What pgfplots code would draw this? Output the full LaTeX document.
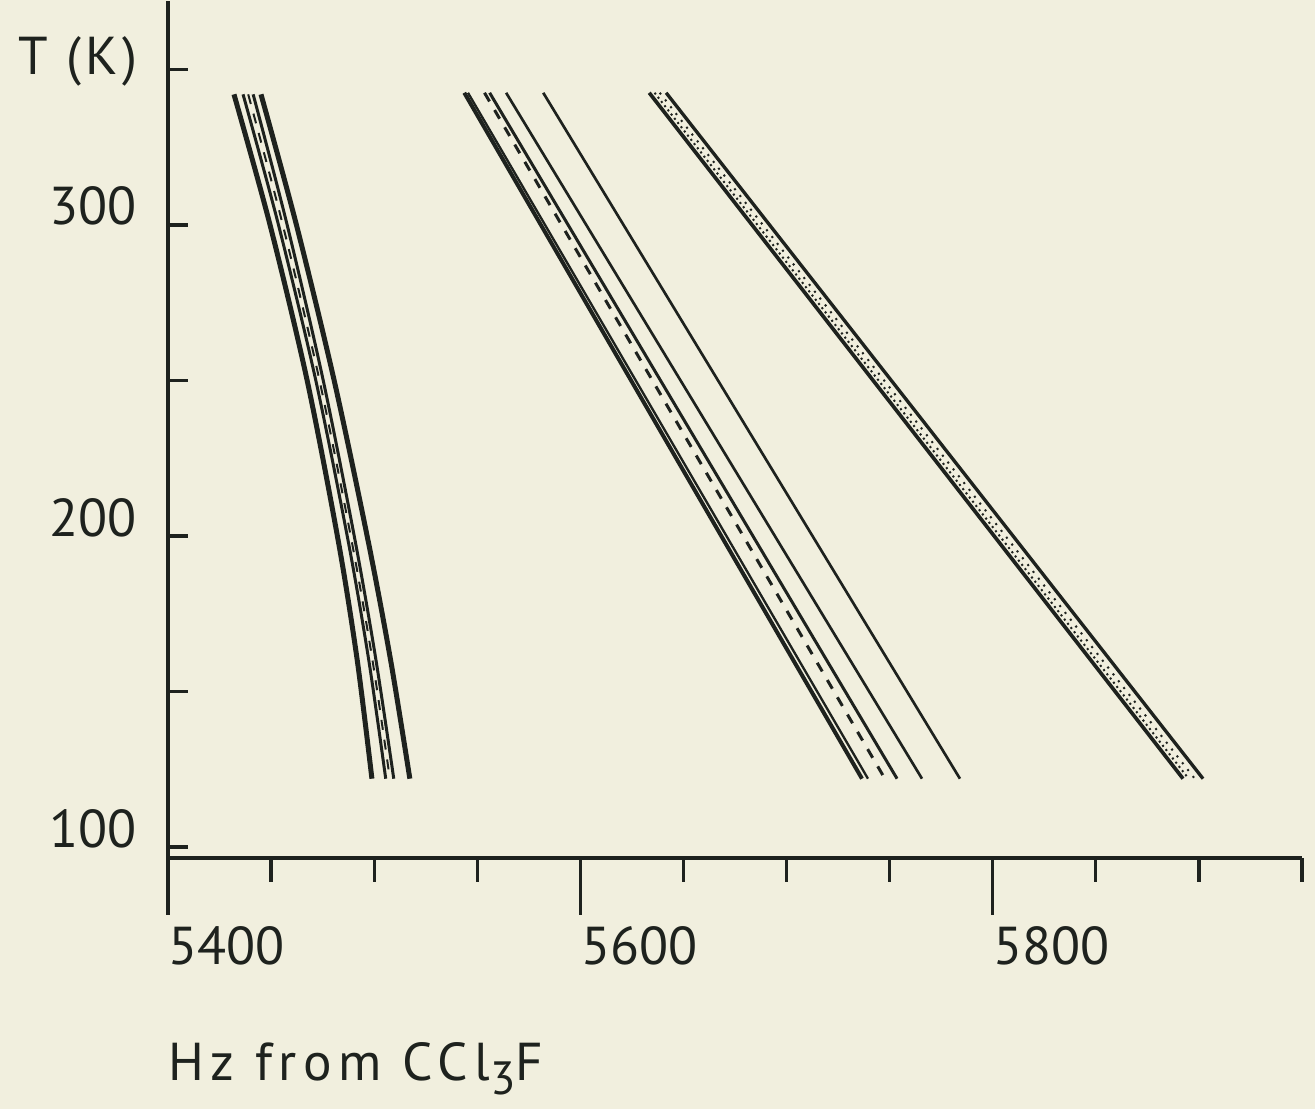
\documentclass[border=0pt]{standalone}
\usepackage{pgfplots}
\pgfplotsset{compat=1.18}
\usepackage{fontspec}
\setmainfont{PT Sans}
\definecolor{paper}{RGB}{241,239,222}
\definecolor{ink}{RGB}{30,34,30}
\begin{document}
\begin{tikzpicture}[every node/.style={font=\fontsize{16}{19}\selectfont, text=ink}]
\fill[paper] (0pt,0pt) rectangle (394.5pt,-332.7pt);
\useasboundingbox (0pt,0pt) rectangle (394.5pt,-332.7pt);
\begin{axis}[
  at={(50.4pt,-257.4pt)}, anchor=south west,
  scale only axis, width=340.2pt, height=257.1pt,
  xmin=5400, xmax=5950, ymin=96.5, ymax=372,
  hide axis, clip=false,
]
% axes
\draw[ink, line width=1.2pt] (axis cs:5400,372) -- (axis cs:5400,96.5) -- ++(0pt,-17.1pt);
\draw[ink, line width=1.1pt] (axis cs:5400,96.5) -- (axis cs:5950,96.5);
\pgfplotsinvokeforeach{5450,5500,5550,5650,5700,5750,5850,5900,5950}{
  \draw[ink, line width=1.0pt] (axis cs:#1,96.5) -- ++(0pt,-7.2pt);
}
\pgfplotsinvokeforeach{5600,5800}{
  \draw[ink, line width=1.0pt] (axis cs:#1,96.5) -- ++(0pt,-17.1pt);
}
\pgfplotsinvokeforeach{100,150,200,250,300,350}{
  \draw[ink, line width=1.0pt] (axis cs:5400,#1) -- ++(6pt,0pt);
}
% tick labels
\node[anchor=base east, inner sep=0pt] at ([xshift=-9.3pt]axis cs:5400,100) {100};
\node[anchor=base east, inner sep=0pt] at ([xshift=-9.3pt]axis cs:5400,200) {200};
\node[anchor=base east, inner sep=0pt] at ([xshift=-9.3pt]axis cs:5400,300) {300};
\node[anchor=base east, inner sep=0pt] at ([xshift=-9.0pt, yshift=-1.5pt]axis cs:5400,350) {\addfontfeature{LetterSpace=8}T (K)};
\node[anchor=north west, inner sep=0pt] at ([yshift=-20.4pt]axis cs:5400,96.5) {5400};
\node[anchor=north west, inner sep=0pt] at ([yshift=-20.4pt]axis cs:5600,96.5) {5600};
\node[anchor=north west, inner sep=0pt] at ([yshift=-20.4pt]axis cs:5800,96.5) {5800};
\node[anchor=base west, inner sep=0pt] at ([yshift=-66.6pt]axis cs:5400,96.5) {\addfontfeature{LetterSpace=12}Hz from CCl\raisebox{-0.28em}{\fontsize{14}{16}\selectfont 3}F};

% group 1 (curved)
\addplot[ink, line width=1.5pt, smooth] coordinates {(5432.0,342) (5449.5,300) (5467.5,250) (5482.7,198) (5491.8,160) (5498.9,122)};
\addplot[ink, line width=0.9pt, smooth] coordinates {(5436.4,342) (5453.6,300) (5471.7,250) (5487.5,198) (5497.4,160) (5505.6,122)};
\addplot[ink, line width=0.6pt, smooth, dashed] coordinates {(5438.9,342) (5455.7,300) (5473.5,250) (5489.2,198) (5499.2,160) (5507.6,122)};
\addplot[ink, line width=0.9pt, smooth] coordinates {(5441.3,342) (5457.8,300) (5475.3,250) (5490.9,198) (5500.9,160) (5509.5,122)};
\addplot[ink, line width=1.5pt, smooth] coordinates {(5445.1,342) (5462.3,300) (5480.6,250) (5497.2,198) (5508.0,160) (5517.3,122)};

% group 2
\addplot[ink, line width=1.2pt] coordinates {(5543.7,342.5) (5736.6,122)};
\addplot[ink, line width=0.7pt] coordinates {(5545.5,342.5) (5739.5,122)};
\addplot[ink, line width=0.9pt, dashed] coordinates {(5553.5,342.5) (5747.7,122)};
\addplot[ink, line width=0.9pt] coordinates {(5556.0,342.5) (5753.6,122)};
\addplot[ink, line width=0.8pt] coordinates {(5564.0,342.5) (5765.7,122)};
\addplot[ink, line width=0.8pt] coordinates {(5582.0,342.5) (5784.1,122)};

% group 3
\addplot[ink, line width=1.1pt] coordinates {(5633.4,342.5) (5892.3,122)};
\addplot[ink, line width=0.6pt, densely dotted] coordinates {(5636.0,342.5) (5895.0,122)};
\addplot[ink, line width=0.6pt, dotted] coordinates {(5638.5,342.5) (5898.0,122)};
\addplot[ink, line width=1.0pt] coordinates {(5641.6,342.5) (5902.0,122)};
\end{axis}
\end{tikzpicture}
\end{document}
